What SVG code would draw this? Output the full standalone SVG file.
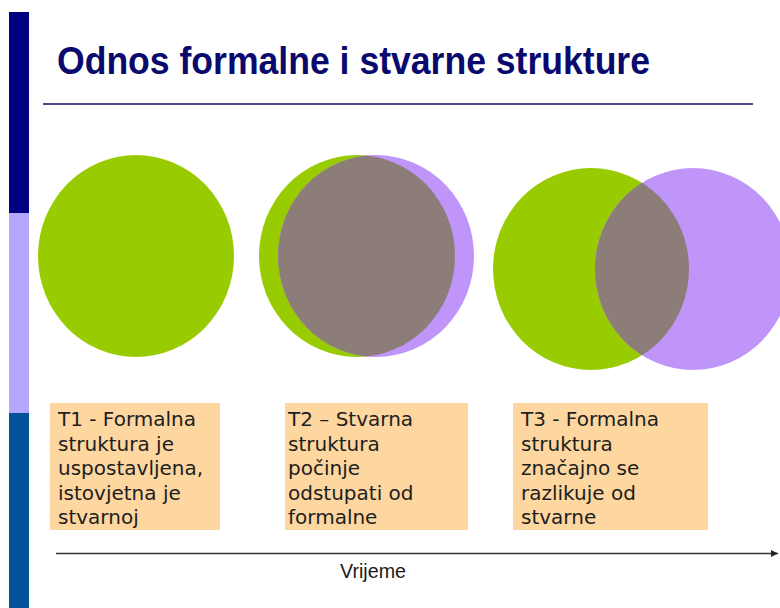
<svg xmlns="http://www.w3.org/2000/svg" width="780" height="608" viewBox="0 0 780 608">
<style>
.green{fill:#99cc00}
.purple{fill:#bf95fa}
.overlap{fill:#8d7d79}
.box{fill:#fdd6a0}
.lbl{font-family:"DejaVu Sans",Verdana,sans-serif;font-size:20px;fill:#1e1e1e}
</style>
<defs>
<clipPath id="c2"><ellipse cx="357" cy="256" rx="98" ry="101"/></clipPath>
<clipPath id="c3"><ellipse cx="591" cy="269" rx="98" ry="101"/></clipPath>
<marker id="arr" viewBox="0 0 10 10" refX="10" refY="5" markerWidth="7" markerHeight="7" markerUnits="userSpaceOnUse" orient="auto"><path d="M0,0 L10,5 L0,10 z" fill="#222"/></marker>
</defs>
<rect width="780" height="608" fill="#ffffff"/>
<g id="sidebar">
<rect x="9" y="12" width="20" height="201" fill="#000080"/>
<rect x="9" y="213" width="20" height="200" fill="#b4a7fe"/>
<rect x="9" y="413" width="20" height="195" fill="#02529b"/>
</g>
<g id="title">
<text x="57" y="74" font-family="'Liberation Sans',Arial,sans-serif" font-weight="bold" font-size="38" fill="#0a0a6e" textLength="593" lengthAdjust="spacingAndGlyphs">Odnos formalne i stvarne strukture</text>
<line x1="43" y1="104" x2="753" y2="104" stroke="#4a4a8c" stroke-width="2"/>
</g>
<g id="t1-circles">
<ellipse class="green" cx="136" cy="256" rx="98" ry="101"/>
</g>
<g id="t2-circles">
<ellipse class="green" cx="357" cy="256" rx="98" ry="101"/>
<ellipse class="purple" cx="376" cy="256" rx="98" ry="101"/>
<ellipse class="overlap" cx="376" cy="256" rx="98" ry="101" clip-path="url(#c2)"/>
</g>
<g id="t3-circles">
<ellipse class="green" cx="591" cy="269" rx="98" ry="101"/>
<ellipse class="purple" cx="693" cy="269" rx="98" ry="101"/>
<ellipse class="overlap" cx="693" cy="269" rx="98" ry="101" clip-path="url(#c3)"/>
</g>
<g id="t1-box">
<rect class="box" x="50" y="403" width="170" height="127"/>
<text class="lbl" x="58" y="426">T1 - Formalna</text>
<text class="lbl" x="58" y="450.5">struktura je</text>
<text class="lbl" x="58" y="475">uspostavljena,</text>
<text class="lbl" x="58" y="499.5">istovjetna je</text>
<text class="lbl" x="58" y="524">stvarnoj</text>
</g>
<g id="t2-box">
<rect class="box" x="285" y="403" width="183" height="127"/>
<text class="lbl" x="288" y="426">T2 – Stvarna</text>
<text class="lbl" x="288" y="450.5">struktura</text>
<text class="lbl" x="288" y="475">počinje</text>
<text class="lbl" x="288" y="499.5">odstupati od</text>
<text class="lbl" x="288" y="524">formalne</text>
</g>
<g id="t3-box">
<rect class="box" x="513" y="403" width="195" height="127"/>
<text class="lbl" x="521" y="426">T3 - Formalna</text>
<text class="lbl" x="521" y="450.5">struktura</text>
<text class="lbl" x="521" y="475">značajno se</text>
<text class="lbl" x="521" y="499.5">razlikuje od</text>
<text class="lbl" x="521" y="524">stvarne</text>
</g>
<g id="connectors">
<line x1="56" y1="553.5" x2="778" y2="553.5" stroke="#333" stroke-width="1.6" marker-end="url(#arr)"/>
</g>
<g id="time-label">
<text x="373" y="578" text-anchor="middle" font-family="'Liberation Sans',Arial,sans-serif" font-size="20" fill="#1a1a1a" textLength="66" lengthAdjust="spacingAndGlyphs">Vrijeme</text>
</g>
</svg>
